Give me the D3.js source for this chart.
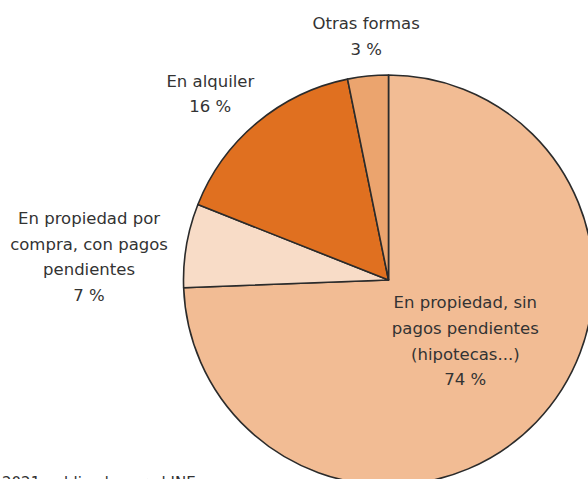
<!DOCTYPE html>
<html>
<head>
<meta charset="utf-8">
<script src="https://cdn.jsdelivr.net/npm/d3@7"></script>
<style>
  body { margin: 0; background: #fff; overflow: hidden; }
  text { font-family: "DejaVu Sans", Verdana, sans-serif; fill: #333; }
</style>
</head>
<body>
<script>
const categories = [
    ['En propiedad, sin', 'pagos pendientes', '(hipotecas...)'],
    ['En propiedad por', 'compra, con pagos', 'pendientes'],
    ['En alquiler'],
    ['Otras formas'],
];
const values = [74.4, 6.6, 15.8, 3.2];
const colors = ['#F2BC94', '#F8DCC7', '#E07020', '#EBA46E'];
const source = '2021 publicado por el INE';

const width = 588;
const height = 479;
const cx = 388.5;
const cy = 280;
const radius = 205;
const lineH = 25.6;

// small hand nudges so the label blocks sit where the original put them
const nudge = [[3, -10], [-8, 22], [-6, 0], [5, -2]];

const data = values.map((v, i) => ({ value: v, lines: categories[i], color: colors[i] }));

const svg = d3.select('body').append('svg')
    .attr('width', width)
    .attr('height', height);

const g = svg.append('g')
    .attr('transform', `translate(${cx},${cy})`);

const pie = d3.pie()
    .sort(null)
    .value(d => d.value);

const arc = d3.arc()
    .outerRadius(radius)
    .innerRadius(0);

const arcs = pie(data);

g.selectAll('path')
    .data(arcs)
    .enter().append('path')
    .attr('d', arc)
    .style('fill', d => d.data.color)
    .style('stroke', '#2b2b2b')
    .style('stroke-width', 1.6)
    .style('stroke-linejoin', 'round');

const labels = g.selectAll('.label')
    .data(arcs)
    .enter().append('text')
    .attr('class', 'label')
    .attr('text-anchor', 'middle')
    .style('font-size', '16.5px');

labels.each(function (d, i) {
    const t = d3.select(this);
    const lines = d.data.lines.concat([`${Math.round(d.data.value)} %`]);
    const a = (d.startAngle + d.endAngle) / 2;
    const h = lines.length * lineH;
    let x, y;
    if (i === 0) {
        x = Math.sin(a) * radius * 0.5;
        y = -Math.cos(a) * radius * 0.5;
    } else {
        const w = d3.max(lines, s => s.length) * 9.2;
        const r = radius + 12.5;
        x = Math.sin(a) * r + Math.sin(a) * w / 2;
        y = -Math.cos(a) * r - Math.cos(a) * h / 2;
    }
    x += nudge[i][0];
    y += nudge[i][1];
    const top = y - h / 2;
    lines.forEach((s, k) => {
        t.append('tspan')
            .attr('x', x)
            .attr('y', top + k * lineH + 18.6)
            .text(s);
    });
});

svg.append('text')
    .attr('x', 2)
    .attr('y', 488)
    .style('font-size', '15px')
    .text(source);
</script>
</body>
</html>
